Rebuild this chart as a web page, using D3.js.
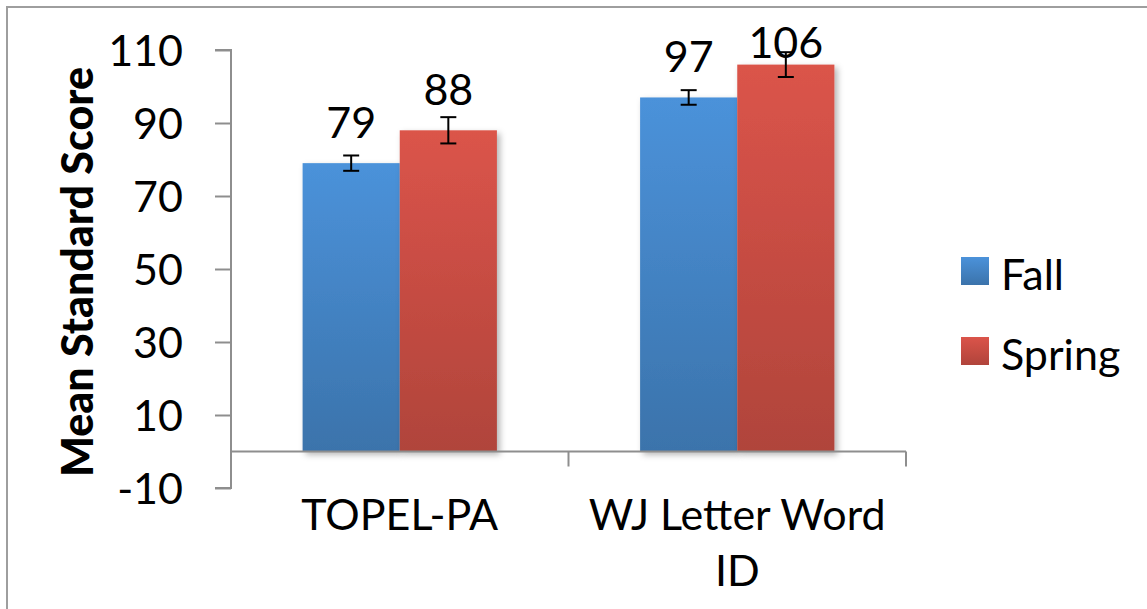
<!DOCTYPE html>
<html><head><meta charset="utf-8">
<script src="https://cdn.jsdelivr.net/npm/d3@7"></script>
<style>body{margin:0;background:#fff}svg{display:block}</style>
</head><body><svg id="c" width="1147" height="609"></svg>
<script>
const categories = ["TOPEL-PA", "WJ Letter Word ID"];
const categoryLines = [["TOPEL-PA"], ["WJ Letter Word", "ID"]];
const seriesNames = ["Fall", "Spring"];
const fallValues = [79, 97];
const springValues = [88, 106];
const fallErrors = [2.1, 2.0];
const springErrors = [3.6, 3.4];
const yTicks = [-10, 10, 30, 50, 70, 90, 110];
const yTitle = "Mean Standard Score";

(function () {
const font = "Lato, 'Open Sans', sans-serif";
const svg = d3.select("#c");
const W = 1147, H = 609;
const pLeft = 231, pRight = 906, pTop = 50, pBottom = 488;

const defs = svg.append("defs");
const grads = [["gFall", "#4b92da", "#3b73ab"], ["gSpring", "#db544a", "#b0443b"]];
grads.forEach(([id, c1, c2]) => {
  const g = defs.append("linearGradient").attr("id", id).attr("x1", 0).attr("y1", 0).attr("x2", 0).attr("y2", 1);
  g.append("stop").attr("offset", "0%").attr("stop-color", c1);
  g.append("stop").attr("offset", "100%").attr("stop-color", c2);
});
const f = defs.append("filter").attr("id", "sh").attr("x", "-10%").attr("y", "-10%").attr("width", "130%").attr("height", "130%");
f.append("feDropShadow").attr("dx", 3).attr("dy", 3).attr("stdDeviation", 3).attr("flood-color", "#000").attr("flood-opacity", 0.3);

svg.append("rect").attr("x", 7).attr("y", 7).attr("width", W + 20).attr("height", H + 20)
  .attr("fill", "none").attr("stroke", "#9e9e9e").attr("stroke-width", 2);

const y = d3.scaleLinear().domain([-10, 110]).range([pBottom, pTop]);
const x0 = d3.scaleBand().domain(categories).range([pLeft, pRight]).paddingInner(0).paddingOuter(0);
const x1 = d3.scaleBand().domain(seriesNames).range([0, x0.bandwidth()]).paddingInner(0).paddingOuter(0.737);

const series = [
  {name: "Fall", values: fallValues, errs: fallErrors, fill: "url(#gFall)"},
  {name: "Spring", values: springValues, errs: springErrors, fill: "url(#gSpring)"}
];

const barG = svg.append("g");
series.forEach(s => {
  barG.append("g").attr("filter", "url(#sh)").selectAll("rect").data(categories).join("rect")
    .attr("x", (c) => x0(c) + x1(s.name))
    .attr("width", x1.bandwidth())
    .attr("y", (c, i) => y(s.values[i]))
    .attr("height", (c, i) => y(0) - y(s.values[i]))
    .attr("fill", s.fill);
});

const yAxis = d3.axisLeft(y).tickValues(yTicks).tickSize(16).tickPadding(32).tickFormat(d => String(d));
const ya = svg.append("g").attr("transform", `translate(${pLeft},0)`).call(yAxis);
ya.select(".domain").attr("stroke", "#8e8e8e").attr("stroke-width", 2).attr("d", `M-16,${pTop}H0V${pBottom}H-16`);
ya.selectAll(".tick line").attr("stroke", "#8e8e8e").attr("stroke-width", 2);
ya.selectAll(".tick text").attr("font-family", font).attr("font-size", 43).attr("fill", "#000").attr("dy", "0.35em");

const xa = svg.append("g").attr("transform", `translate(0,${y(0)})`)
  .call(d3.axisBottom(x0).tickSize(0).tickFormat(""));
xa.select(".domain").attr("stroke", "#8e8e8e").attr("stroke-width", 2).attr("d", `M${pLeft},0H${pRight}`);
const bounds = [pLeft].concat(categories.map(c => x0(c) + x0.bandwidth()));
xa.selectAll(".bnd").data(bounds).join("line").attr("class", "bnd")
  .attr("x1", d => d).attr("x2", d => d).attr("y1", 0).attr("y2", 15)
  .attr("stroke", "#8e8e8e").attr("stroke-width", 2);

categoryLines.forEach((lines, i) => {
  const cx = x0(categories[i]) + x0.bandwidth() / 2;
  lines.forEach((ln, j) => {
    svg.append("text").attr("x", cx).attr("y", 530 + j * 56).attr("text-anchor", "middle")
      .attr("font-family", font).attr("font-size", 43).attr("fill", "#000").text(ln);
  });
});

series.forEach(s => {
  categories.forEach((c, i) => {
    const cx = x0(c) + x1(s.name) + x1.bandwidth() / 2;
    const hi = y(s.values[i] + s.errs[i]), lo = y(s.values[i] - s.errs[i]);
    const g = svg.append("g").attr("stroke", "#000").attr("stroke-width", 2);
    g.append("line").attr("x1", cx).attr("x2", cx).attr("y1", hi).attr("y2", lo);
    g.append("line").attr("x1", cx - 8).attr("x2", cx + 8).attr("y1", hi).attr("y2", hi);
    g.append("line").attr("x1", cx - 8).attr("x2", cx + 8).attr("y1", lo).attr("y2", lo);
  });
});

series.forEach(s => {
  categories.forEach((c, i) => {
    const cx = x0(c) + x1(s.name) + x1.bandwidth() / 2;
    svg.append("text").attr("x", cx).attr("y", Math.max(y(s.values[i]) - 25, 58)).attr("text-anchor", "middle")
      .attr("font-family", font).attr("font-size", 43).attr("fill", "#000").text(s.values[i]);
  });
});

svg.append("text").attr("transform", `translate(93,272) rotate(-90)`).attr("text-anchor", "middle")
  .attr("font-family", font).attr("font-weight", "900").attr("font-size", 43).attr("fill", "#000").text(yTitle);

const legend = svg.append("g");
series.forEach((s, i) => {
  const ly = 257 + i * 80;
  legend.append("rect").attr("x", 961).attr("y", ly).attr("width", 28).attr("height", 28).attr("fill", s.fill);
  legend.append("text").attr("x", 1001).attr("y", ly + 33).attr("font-family", font).attr("font-size", 43)
    .attr("fill", "#000").text(s.name);
});
})();
</script></body></html>
